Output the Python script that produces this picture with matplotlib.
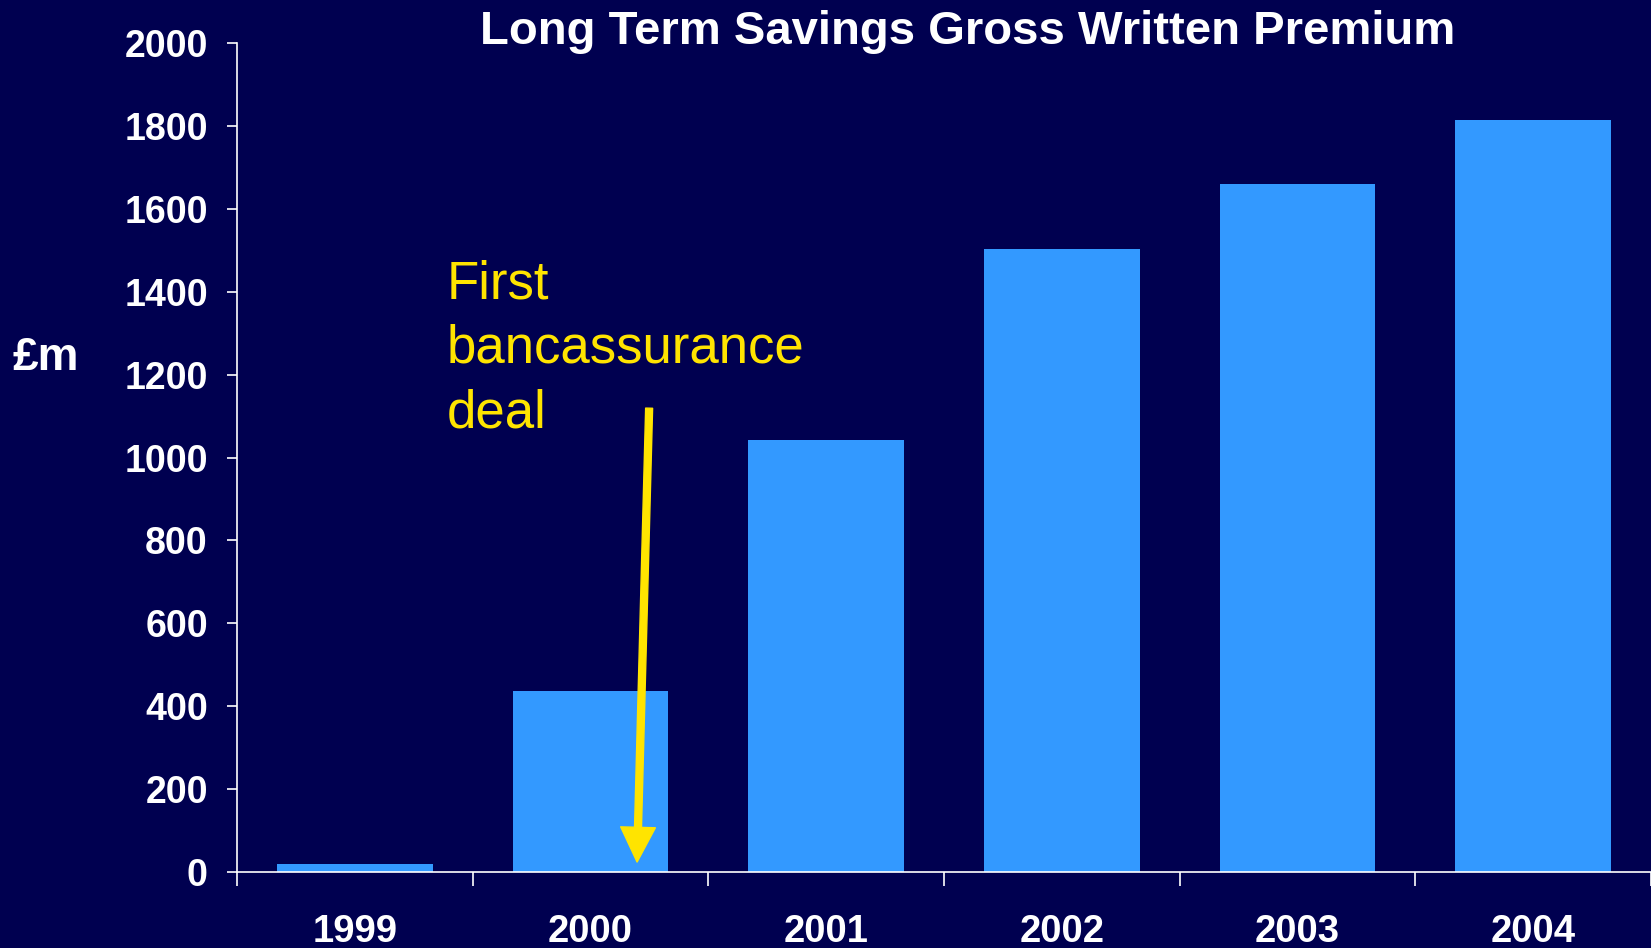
import numpy as np
import matplotlib.pyplot as plt

# Long term savings gross written premium, £m
years = ['1999', '2000', '2001', '2002', '2003', '2004']
premium = [19, 437, 1042, 1504, 1660, 1814]
y_ticks = [0, 200, 400, 600, 800, 1000, 1200, 1400, 1600, 1800, 2000]

bg = '#000050'
bar_col = '#3399FF'
yellow = '#FFE400'
plt.rcParams['font.family'] = ['Liberation Sans', 'DejaVu Sans']

fig = plt.figure(figsize=(16.51, 9.48), dpi=100, facecolor=bg)
ax = fig.add_axes([0.1435, 0.0802, 0.8565, 0.8744], facecolor=bg)

x = np.arange(len(years))
ax.bar(x, premium, width=0.66, color=bar_col, zorder=2)

ax.set_xlim(-0.5, len(years) - 0.5)
ax.set_ylim(0, 2000)

# boundary ticks (major) and centered labels (minor)
ax.set_xticks(np.arange(len(years) + 1) - 0.5)
ax.set_xticklabels([])
ax.set_xticks(x, minor=True)
ax.set_xticklabels(years, minor=True)
ax.tick_params(axis='x', which='major', direction='out', length=10, width=1.2, color='white')
ax.tick_params(axis='x', which='minor', length=0, pad=30, labelsize=27.5, labelcolor='white')
for lab in ax.get_xticklabels(minor=True):
    lab.set_fontweight('bold')

ax.set_yticks(y_ticks)
ax.tick_params(axis='y', direction='out', length=7, width=1.2, color='white', pad=14,
               labelsize=27, labelcolor='white')
for lab in ax.get_yticklabels():
    lab.set_fontweight('bold')

for s in ['top', 'right']:
    ax.spines[s].set_visible(False)
for s in ['left', 'bottom']:
    ax.spines[s].set_color('white')
    ax.spines[s].set_linewidth(1.2)
    ax.spines[s].set_zorder(3)

fig.text(0.586, 0.966, 'Long Term Savings Gross Written Premium', color='white',
         fontsize=34, fontweight='bold', ha='center', va='center')
fig.text(0.028, 0.622, '£m', color='white', fontsize=33, fontweight='bold',
         ha='center', va='center')

ax.text(0.1485, 0.631, 'First\nbancassurance\ndeal', transform=ax.transAxes,
        color=yellow, fontsize=38, ha='left', va='center', linespacing=1.37)
ax.annotate('', xy=(1.198, 24), xytext=(1.249, 1119),
            arrowprops=dict(facecolor=yellow, edgecolor=yellow, width=5,
                            headwidth=25, headlength=25, shrink=0), zorder=4)

fig.savefig('out.png', dpi=100, facecolor=bg)
